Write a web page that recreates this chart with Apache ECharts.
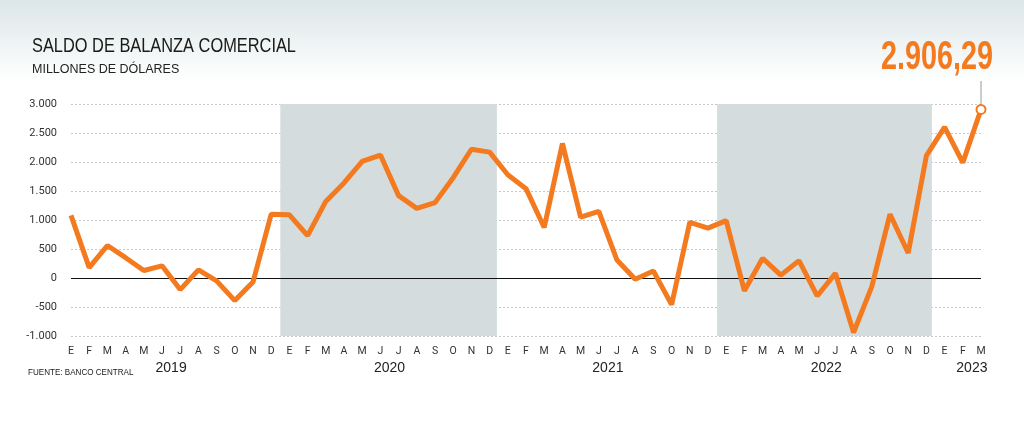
<!DOCTYPE html>
<html>
<head>
<meta charset="utf-8">
<script src="https://cdn.jsdelivr.net/npm/echarts@6/dist/echarts.min.js"></script>
<style>
  html, body { margin: 0; padding: 0; }
  body { width: 1024px; height: 423px; background: linear-gradient(#dce6e8 0px, #ffffff 82px, #ffffff 100%); }
  #chart { width: 1024px; height: 423px; }
</style>
</head>
<body>
<div id="chart"></div>
<script>
const months = ['E','F','M','A','M','J','J','A','S','O','N','D'];
const monthLabels = [];
for (let y = 0; y < 5; y++) months.forEach(m => monthLabels.push(m));
monthLabels.length = 51;

const years = ['2019', '2020', '2021', '2022', '2023'];
const yearCenters = [5.5, 17.5, 29.5, 41.5, 49.5];

const saldo = [
  1080, 180, 560, 350, 130, 210, -200, 140, -50, -390, -70, 1100,
  1090, 730, 1320, 1640, 2010, 2120, 1420, 1200, 1300, 1730, 2220, 2170,
  1780, 1540, 870, 2320, 1050, 1150, 310, -20, 120, -460, 960, 860,
  990, -220, 340, 50, 300, -310, 80, -940, -150, 1100, 430, 2110,
  2600, 1990, 2906.29
];
const yTicks = [-1000, -500, 0, 500, 1000, 1500, 2000, 2500, 3000];
const shaded = [[11.5, 23.4], [35.5, 47.3]];

const orange = '#f47a20';
const fmt = v => v.toLocaleString('de-DE');

const chart = echarts.init(document.getElementById('chart'));

chart.setOption({
  backgroundColor: 'transparent',
  animation: false,
  textStyle: { fontFamily: 'Roboto' },
  grid: { left: 71, right: 43, top: 104, bottom: 87 },
  xAxis: {
    type: 'value', min: 0, max: 50, interval: 1,
    splitLine: { show: false },
    axisLine: { show: false },
    axisTick: { show: false },
    axisLabel: {
      color: '#333', fontSize: 10.5, margin: 10,
      formatter: v => monthLabels[v] || ''
    }
  },
  yAxis: {
    type: 'value', min: -1000, max: 3000, interval: 500,
    axisLine: { show: false },
    axisTick: { show: false },
    axisLabel: { color: '#333', fontSize: 11, margin: 14, formatter: v => fmt(v) },
    splitLine: { lineStyle: { color: '#c8c8c8', type: [2, 2] } }
  },
  series: [{
    type: 'line',
    data: saldo.map((v, i) => i === saldo.length - 1
      ? { value: [i, v], symbol: 'circle', symbolSize: 9, itemStyle: { color: '#fff', borderColor: orange, borderWidth: 2 } }
      : [i, v]),
    showSymbol: true,
    symbol: 'none',
    lineStyle: { color: orange, width: 5 },
    itemStyle: { color: orange },
    z: 5,
    markArea: {
      silent: true,
      itemStyle: { color: '#d4dcdd' },
      data: shaded.map(s => [{ xAxis: s[0], yAxis: 3000 }, { xAxis: s[1], yAxis: -1000 }])
    },
    markLine: {
      silent: true, symbol: 'none', label: { show: false },
      lineStyle: { color: '#111', width: 1, type: 'solid' },
      data: [{ yAxis: 0 }]
    }
  }]
});

const last = chart.convertToPixel({ gridIndex: 0 }, [saldo.length - 1, saldo[saldo.length - 1]]);
const yearY = 368;
chart.setOption({
  graphic: [
    { type: 'text', x: 32, y: 37, scaleX: 0.84, style: { text: 'SALDO DE BALANZA COMERCIAL', fontSize: 19.5, fill: '#1a1a1a' } },
    { type: 'text', x: 32, y: 63, style: { text: 'MILLONES DE DÓLARES', fontSize: 12.5, fill: '#222' } },
    { type: 'text', x: 28, y: 367, scaleX: 0.85, style: { text: 'FUENTE: BANCO CENTRAL', fontSize: 9.5, fill: '#222' } },
    { type: 'text', x: last[0] + 12, y: 78, scaleX: 0.72, style: { text: '2.906,29', fontSize: 40, fontWeight: 'bold', fill: orange, align: 'right', verticalAlign: 'bottom' } },
    { type: 'line', shape: { x1: last[0], y1: 81, x2: last[0], y2: last[1] - 5 }, style: { stroke: '#999', lineWidth: 1 } }
  ].concat(years.map((t, i) => ({
    type: 'text',
    x: chart.convertToPixel({ gridIndex: 0 }, [yearCenters[i], 0])[0],
    y: yearY,
    style: { text: t, fontSize: 14, fill: '#222', align: 'center', verticalAlign: 'middle' }
  })))
});
</script>
</body>
</html>
